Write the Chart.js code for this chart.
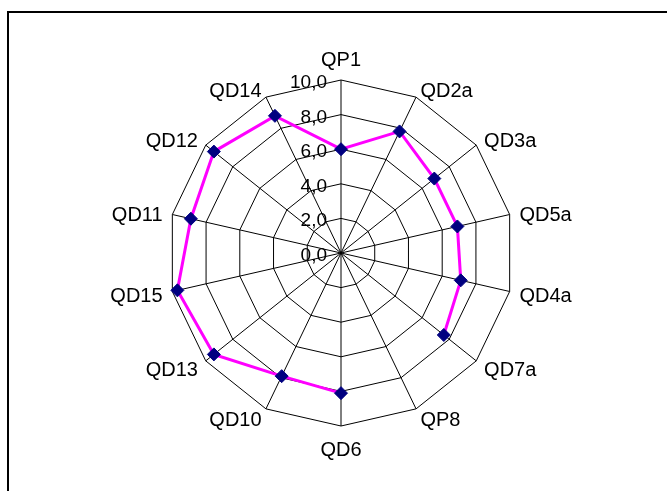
<!DOCTYPE html>
<html>
<head>
<meta charset="utf-8">
<style>
  html, body { margin: 0; padding: 0; background: #fff; }
  #wrap { position: relative; width: 667px; height: 491px; overflow: hidden; }
  #frame { position: absolute; left: 7px; top: 11px; width: 700px; height: 520px;
           border-left: 2px solid #000; border-top: 2px solid #000; }
  canvas { position: absolute; left: 0; top: 0; }
</style>
<script src="https://cdn.jsdelivr.net/npm/chart.js@4/dist/chart.umd.min.js"></script>
</head>
<body>
<div id="wrap">
  <div id="frame"></div>
  <canvas id="radar" width="667" height="491"></canvas>
</div>
<script>
// ---- data ----
const categories = ['QP1', 'QD2a', 'QD3a', 'QD5a', 'QD4a', 'QD7a', 'QP8',
                    'QD6', 'QD10', 'QD13', 'QD15', 'QD11', 'QD12', 'QD14'];
const scores = [6.0, 7.8, 6.9, 6.9, 7.1, 7.6, null,
                8.1, 7.9, 9.4, 9.7, 8.9, 9.4, 8.8];
const tickValues = [0, 2, 4, 6, 8, 10];
const tickLabels = ['0,0', '2,0', '4,0', '6,0', '8,0', '10,0'];

const FONT = '"Liberation Sans", Arial, sans-serif';

// Excel-style labels: values right-aligned beside the vertical axis,
// categories centred on the outer vertices
const labelPlugin = {
  id: 'excelLabels',
  afterDraw(chart) {
    const scale = chart.scales.r;
    const ctx = chart.ctx;
    ctx.save();
    ctx.fillStyle = '#000';
    ctx.textBaseline = 'alphabetic';

    ctx.font = '19px ' + FONT;
    ctx.textAlign = 'right';
    scale.ticks.forEach(tick => {
      const idx = tickValues.indexOf(tick.value);
      if (idx < 0) return;
      const d = scale.getDistanceFromCenterForValue(tick.value);
      ctx.fillText(tickLabels[idx], scale.xCenter - 14, scale.yCenter - d + 8);
    });

    ctx.font = '20px ' + FONT;
    categories.forEach((label, i) => {
      const angle = scale.getIndexAngle(i);
      const s = Math.sin(angle), c = Math.cos(angle);
      if (Math.abs(s) < 0.01) {
        ctx.textAlign = 'center';
        const p = scale.getPointPosition(i, scale.drawingArea + (c > 0 ? 14 : 15));
        ctx.fillText(label, p.x, c > 0 ? p.y : p.y + 14.5);
      } else {
        ctx.textAlign = s > 0 ? 'left' : 'right';
        const p = scale.getPointPosition(i, scale.drawingArea + 10);
        ctx.fillText(label, p.x, p.y + 8.5);
      }
    });
    ctx.restore();
  }
};

new Chart(document.getElementById('radar'), {
  type: 'radar',
  data: {
    labels: categories,
    datasets: [{
      data: scores,
      borderColor: '#FF00FF',
      borderWidth: 3,
      fill: false,
      tension: 0,
      spanGaps: false,
      pointStyle: 'rectRot',
      pointRadius: 6.5,
      pointBorderWidth: 1,
      pointBackgroundColor: '#000080',
      pointBorderColor: '#000080'
    }]
  },
  options: {
    responsive: false,
    animation: false,
    devicePixelRatio: 1,
    events: [],
    layout: { padding: { left: 168, right: 153, top: 80, bottom: 65 } },
    plugins: { legend: { display: false }, title: { display: false }, tooltip: { enabled: false } },
    scales: {
      r: {
        min: 0,
        max: 10,
        ticks: { stepSize: 2, display: false },
        grid: { color: '#000', lineWidth: 1, circular: false },
        angleLines: { display: true, color: '#000', lineWidth: 1 },
        pointLabels: { display: false }
      }
    }
  },
  plugins: [labelPlugin]
});
</script>
</body>
</html>
